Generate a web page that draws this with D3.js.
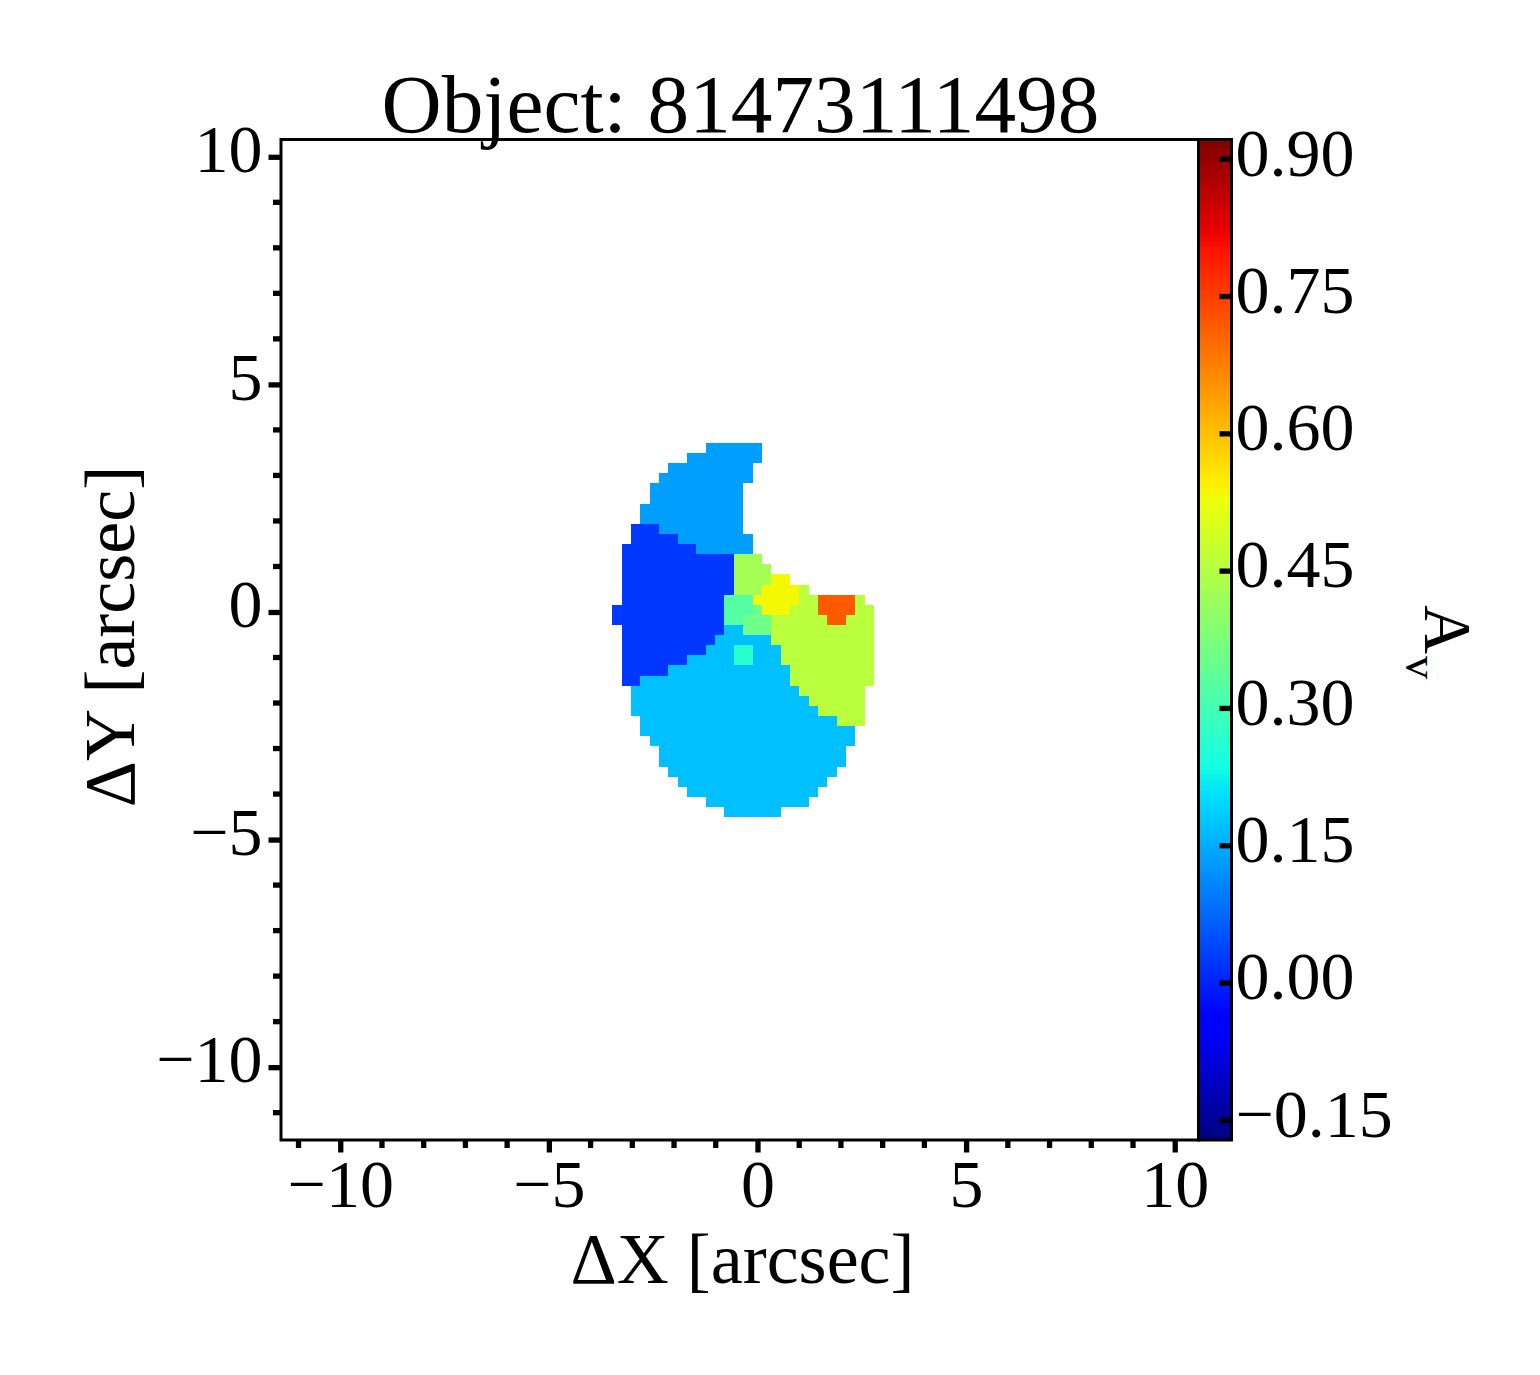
<!DOCTYPE html>
<html>
<head>
<meta charset="utf-8">
<script src="https://cdn.jsdelivr.net/npm/d3@7"></script>
<style>
  html, body { margin: 0; padding: 0; background: #fff; }
  svg, svg text { display: block; font-family: "Liberation Serif", serif; }
</style>
</head>
<body>
<div id="chart"></div>
<script>
// --- Data ---
const title = "Object: 81473111498";
const xTicks = [-10, -5, 0, 5, 10];
const yTicks = [-10, -5, 0, 5, 10];
const xMinor = d3.range(-11, 11).filter(d => d % 5 !== 0);
const yMinor = d3.range(-11, 11).filter(d => d % 5 !== 0);
const cbarTicks = [-0.15, 0.00, 0.15, 0.30, 0.45, 0.60, 0.75, 0.90];

// Av of each Voronoi bin
const binNames = ["dark", "north", "south", "knot", "neck", "mid", "arm", "east", "peak", "hot"];
const binAv = [0.025, 0.134, 0.170, 0.265, 0.322, 0.356, 0.427, 0.456, 0.535, 0.719];

// spaxel grid, arcsec
const gridLeft = -3.482, gridTop = 3.712, gridDx = 0.2242, gridDy = 0.2221;

// [row, bin, first column, end column]
const spaxelRuns = [
  [0, "north", 10, 16], [1, "north", 8, 16], [2, "north", 6, 15], [3, "north", 5, 15],
  [4, "north", 4, 14], [5, "north", 4, 14], [6, "north", 3, 14], [7, "north", 3, 14],
  [8, "dark", 2, 5], [8, "north", 5, 14],
  [9, "dark", 2, 7], [9, "north", 7, 15],
  [10, "dark", 1, 9], [10, "north", 9, 15],
  [11, "dark", 1, 13], [11, "arm", 13, 16],
  [12, "dark", 1, 13], [12, "arm", 13, 17],
  [13, "dark", 1, 13], [13, "arm", 13, 17], [13, "peak", 17, 19],
  [14, "dark", 1, 13], [14, "arm", 13, 16], [14, "peak", 16, 20], [14, "east", 20, 21],
  [15, "dark", 1, 12], [15, "neck", 12, 15], [15, "peak", 15, 20], [15, "east", 20, 22], [15, "hot", 22, 26], [15, "east", 26, 27],
  [16, "dark", 0, 12], [16, "neck", 12, 15], [16, "mid", 15, 16], [16, "peak", 16, 19], [16, "east", 19, 22], [16, "hot", 22, 26], [16, "east", 26, 28],
  [17, "dark", 0, 12], [17, "neck", 12, 14], [17, "mid", 14, 17], [17, "east", 17, 23], [17, "hot", 23, 25], [17, "east", 25, 28],
  [18, "dark", 1, 12], [18, "south", 12, 14], [18, "mid", 14, 17], [18, "east", 17, 28],
  [19, "dark", 1, 11], [19, "south", 11, 17], [19, "east", 17, 28],
  [20, "dark", 1, 10], [20, "south", 10, 13], [20, "knot", 13, 15], [20, "south", 15, 18], [20, "east", 18, 28],
  [21, "dark", 1, 8], [21, "south", 8, 13], [21, "knot", 13, 15], [21, "south", 15, 18], [21, "east", 18, 28],
  [22, "dark", 1, 6], [22, "south", 6, 19], [22, "east", 19, 28],
  [23, "dark", 1, 3], [23, "south", 3, 19], [23, "east", 19, 28],
  [24, "south", 2, 20], [24, "east", 20, 27],
  [25, "south", 2, 21], [25, "east", 21, 27],
  [26, "south", 2, 22], [26, "east", 22, 27],
  [27, "south", 3, 24], [27, "east", 24, 27],
  [28, "south", 3, 26], [29, "south", 4, 26], [30, "south", 5, 25], [31, "south", 5, 25],
  [32, "south", 6, 24], [33, "south", 7, 23], [34, "south", 8, 22], [35, "south", 10, 21],
  [36, "south", 12, 18]
];

// --- Dimensions ---
const width = 1540, height = 1375;
const plot = { left: 281, right: 1198.5, top: 139.5, bottom: 1140 };
const cbar = { left: 1198.5, right: 1231.5 };

const svg = d3.select("#chart").append("svg")
  .attr("width", width)
  .attr("height", height)
  .attr("viewBox", `0 0 ${width} ${height}`);

// --- Scales ---
const x = d3.scaleLinear().domain([-11.42, 10.57]).range([plot.left, plot.right]);
const y = d3.scaleLinear().domain([-11.6, 10.38]).range([plot.bottom, plot.top]);
const cbarY = d3.scaleLinear().domain([-0.172, 0.921]).range([plot.bottom, plot.top]);
const avToBin = d3.scaleOrdinal().domain(binNames).range(binAv);

// matplotlib jet, channel by channel
const jetR = d3.scaleLinear().domain([0, 0.35, 0.66, 0.89, 1]).range([0, 0, 1, 1, 0.5]);
const jetG = d3.scaleLinear().domain([0, 0.125, 0.375, 0.64, 0.91, 1]).range([0, 0, 1, 1, 0, 0]);
const jetB = d3.scaleLinear().domain([0, 0.11, 0.34, 0.65, 1]).range([0.5, 1, 1, 0, 0]);
const avNorm = d3.scaleLinear().domain(cbarY.domain()).range([0, 1]);
const jet = v => {
  const t = avNorm(v);
  return d3.rgb(jetR(t) * 255, jetG(t) * 255, jetB(t) * 255).formatHex();
};

// --- Map ---
svg.append("g")
  .attr("shape-rendering", "crispEdges")
  .selectAll("rect")
  .data(spaxelRuns)
  .join("rect")
  .attr("x", d => x(gridLeft + d[2] * gridDx))
  .attr("width", d => x(gridLeft + d[3] * gridDx) - x(gridLeft + d[2] * gridDx))
  .attr("y", d => y(gridTop - d[0] * gridDy))
  .attr("height", d => y(gridTop - (d[0] + 1) * gridDy) - y(gridTop - d[0] * gridDy))
  .attr("fill", d => jet(avToBin(d[1])));

// --- Colorbar ---
const cbarLevels = d3.range(256).map(i => -0.172 + i * (0.921 + 0.172) / 256);
const cbarStep = (0.921 + 0.172) / 256;
svg.append("g")
  .attr("shape-rendering", "crispEdges")
  .selectAll("rect")
  .data(cbarLevels)
  .join("rect")
  .attr("x", cbar.left)
  .attr("width", cbar.right - cbar.left)
  .attr("y", d => cbarY(d + cbarStep))
  .attr("height", d => cbarY(d) - cbarY(d + cbarStep) + 0.5)
  .attr("fill", d => jet(d + cbarStep / 2));

// --- Axes ---
const fmt = d => String(d).replace("-", "\u2212");
const tickFont = "68px";
const tickWidth = 5.3;

const xAxis = svg.append("g")
  .attr("transform", `translate(0,${plot.bottom})`)
  .call(d3.axisBottom(x).tickValues(xTicks).tickFormat(fmt).tickSize(12.5).tickSizeOuter(0).tickPadding(6.5));
xAxis.select(".domain").remove();
xAxis.selectAll("line").attr("stroke", "#000").attr("stroke-width", tickWidth);
xAxis.selectAll("text").style("font-size", tickFont).attr("fill", "#000").attr("dy", "0.71em");

const yAxis = svg.append("g")
  .attr("transform", `translate(${plot.left},0)`)
  .call(d3.axisLeft(y).tickValues(yTicks).tickFormat(fmt).tickSize(12.5).tickSizeOuter(0).tickPadding(6));
yAxis.select(".domain").remove();
yAxis.selectAll("line").attr("stroke", "#000").attr("stroke-width", tickWidth);
yAxis.selectAll("text").style("font-size", tickFont).attr("fill", "#000").attr("dy", "0.215em");

// minor ticks
svg.append("g").selectAll("line").data(xMinor).join("line")
  .attr("x1", d => x(d)).attr("x2", d => x(d))
  .attr("y1", plot.bottom).attr("y2", plot.bottom + 8)
  .attr("stroke", "#000").attr("stroke-width", tickWidth);
svg.append("g").selectAll("line").data(yMinor).join("line")
  .attr("y1", d => y(d)).attr("y2", d => y(d))
  .attr("x1", plot.left - 8).attr("x2", plot.left)
  .attr("stroke", "#000").attr("stroke-width", tickWidth);

const cAxis = svg.append("g")
  .attr("transform", `translate(${cbar.right},0)`)
  .call(d3.axisRight(cbarY).tickValues(cbarTicks).tickFormat(d => fmt(d.toFixed(2))).tickSize(-12).tickSizeOuter(0).tickPadding(4));
cAxis.select(".domain").remove();
cAxis.selectAll("line").attr("stroke", "#000").attr("stroke-width", tickWidth);
cAxis.selectAll("text").style("font-size", tickFont).attr("fill", "#000").attr("dy", "0.24em");

// --- Frames ---
svg.append("rect")
  .attr("x", plot.left).attr("y", plot.top)
  .attr("width", plot.right - plot.left).attr("height", plot.bottom - plot.top)
  .attr("fill", "none").attr("stroke", "#000").attr("stroke-width", 3);
svg.append("rect")
  .attr("x", cbar.left).attr("y", plot.top)
  .attr("width", cbar.right - cbar.left).attr("height", plot.bottom - plot.top)
  .attr("fill", "none").attr("stroke", "#000").attr("stroke-width", 3);

// --- Labels ---
svg.append("text")
  .attr("x", 740.5).attr("y", 132)
  .attr("text-anchor", "middle")
  .style("font-size", "83.3px")
  .text(title);

svg.append("text")
  .attr("x", 742.5).attr("y", 1283)
  .attr("text-anchor", "middle")
  .style("font-size", "72px")
  .text("\u0394X [arcsec]");

svg.append("text")
  .attr("transform", "translate(134,636.5) rotate(-90)")
  .attr("text-anchor", "middle")
  .style("font-size", "72px")
  .text("\u0394Y [arcsec]");

const avLabel = svg.append("text")
  .attr("transform", "translate(1425,605) rotate(90)")
  .style("font-size", "68px");
avLabel.append("tspan").text("A");
avLabel.append("tspan").attr("dx", 2).attr("dy", 19).style("font-size", "46px").text("v");
</script>
</body>
</html>
